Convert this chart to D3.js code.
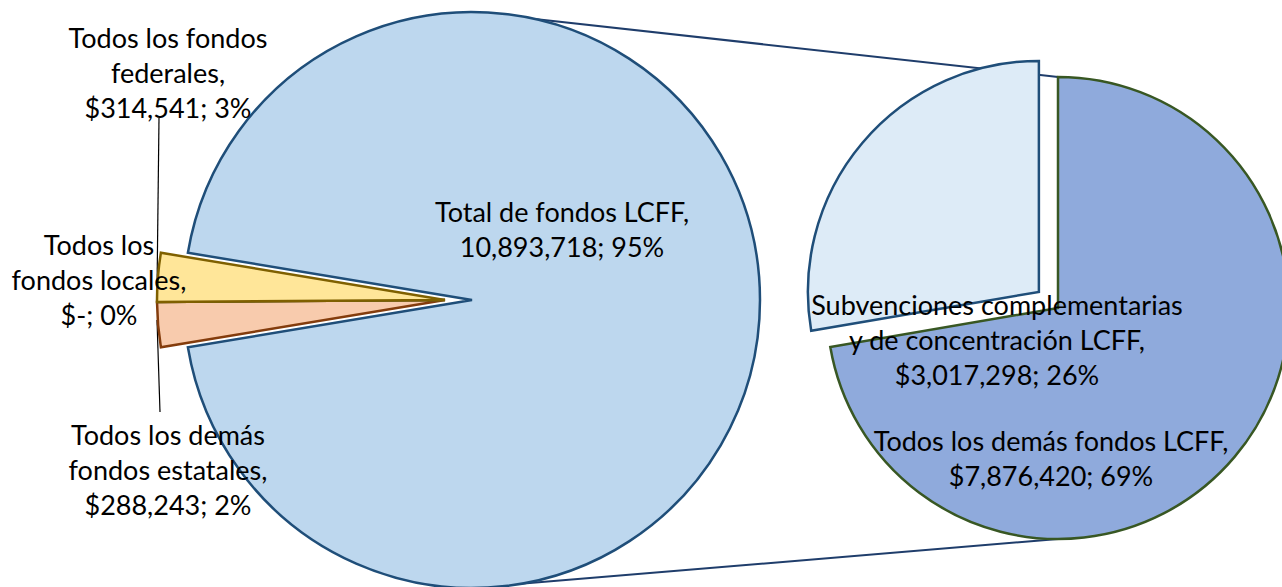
<!DOCTYPE html>
<html>
<head>
<meta charset="utf-8">
<script src="https://cdn.jsdelivr.net/npm/d3@7"></script>
<style>
  body { margin: 0; background: #fff; }
  text { font-family: Lato, "Open Sans", sans-serif; font-size: 27px; fill: #000; }
</style>
</head>
<body>
<div id="chart"></div>
<script>
// first pie: order goes clockwise from lower-left
var mainNames = [["Todos los demás", "fondos estatales,"], ["Todos los", "fondos locales,"], ["Todos los fondos", "federales,"], ["Total de fondos LCFF,"]];
var mainValues = [288243, 0, 314541, 10893718];
var mainPrefix = ["$", "$", "$", ""];
var mainPct = ["2%", "0%", "3%", "95%"];

// second pie: split of the LCFF slice
var subNames = [["Subvenciones complementarias", "y de concentración LCFF,"], ["Todos los demás fondos LCFF,"]];
var subValues = [3017298, 7876420];
var subPct = ["26%", "69%"];

var mainFill = ["#F8CBAD", "#E2EFDA", "#FFE699", "#BDD7EE"];
var mainStroke = ["#843C0C", "#4F6228", "#7F6000", "#1F4E79"];
var subFill = ["#DDEBF7", "#8FAADC"];
var subStroke = ["#1F4E79", "#385723"];

var width = 1282, height = 587;
var svg = d3.select("#chart").append("svg")
    .attr("width", width)
    .attr("height", height);

var c1 = {x: 472, y: 300}, r1 = 288;
var c2 = {x: 1058, y: 308}, r2 = 231;

var total = d3.sum(mainValues);
var smallAngle = 2 * Math.PI * (total - mainValues[3]) / total;
var start1 = 1.5 * Math.PI - smallAngle / 2;

var pie1 = d3.pie().sort(null).value(function(d) { return d; })
    .startAngle(start1).endAngle(start1 + 2 * Math.PI);
var arcs1 = pie1(mainValues);

var subTotal = d3.sum(subValues);
var start2 = -2 * Math.PI * subValues[0] / subTotal;
var pie2 = d3.pie().sort(null).value(function(d) { return d; })
    .startAngle(start2).endAngle(start2 + 2 * Math.PI);
var arcs2 = pie2(subValues);

var arc1 = d3.arc().innerRadius(0).outerRadius(r1);
var arc2 = d3.arc().innerRadius(0).outerRadius(r2);

function pt(c, r, a) {
  return [c.x + r * Math.sin(a), c.y - r * Math.cos(a)];
}

// connector lines (behind the pies)
var top1 = pt(c1, r1, 0.22), bot1 = pt(c1, r1, Math.PI - 0.17);
svg.append("line")
    .attr("x1", top1[0]).attr("y1", top1[1])
    .attr("x2", c2.x).attr("y2", c2.y - r2)
    .attr("stroke", "#1F3D6B").attr("stroke-width", 2);
svg.append("line")
    .attr("x1", bot1[0]).attr("y1", bot1[1])
    .attr("x2", c2.x).attr("y2", c2.y + r2)
    .attr("stroke", "#1F3D6B").attr("stroke-width", 2);

// leader lines for the small slices
svg.append("line").attr("x1", 159).attr("y1", 118).attr("x2", 157).attr("y2", 290)
    .attr("stroke", "#000").attr("stroke-width", 1.2);
svg.append("line").attr("x1", 160).attr("y1", 412).attr("x2", 157).attr("y2", 320)
    .attr("stroke", "#000").attr("stroke-width", 1.2);

// first pie, small slices pulled out to the left
svg.append("g")
    .selectAll("path")
    .data(arcs1)
    .enter()
    .append("path")
      .attr("d", arc1)
      .attr("transform", function(d, i) {
        var dx = i < 3 ? -27 : 0;
        return "translate(" + (c1.x + dx) + "," + c1.y + ")";
      })
      .attr("fill", function(d, i) { return mainFill[i]; })
      .attr("stroke", function(d, i) { return mainStroke[i]; })
      .attr("stroke-width", 2.5)
      .attr("stroke-linejoin", "miter");

// second pie, first slice pulled out along its bisector
svg.append("g")
    .selectAll("path")
    .data(arcs2)
    .enter()
    .append("path")
      .attr("d", arc2)
      .attr("transform", function(d, i) {
        var off = i === 0 ? 25 : 0;
        var mid = (d.startAngle + d.endAngle) / 2;
        var p = pt(c2, off, mid);
        return "translate(" + p[0] + "," + p[1] + ")";
      })
      .attr("fill", function(d, i) { return subFill[i]; })
      .attr("stroke", function(d, i) { return subStroke[i]; })
      .attr("stroke-width", 2.5)
      .attr("stroke-linejoin", "miter");

// labels
var lineH = 35;
var fmt = d3.format(",");
function valueText(v, prefix) {
  return v === 0 ? prefix + "-" : prefix + fmt(v);
}

var mainLabelPos = [[168, 445], [99, 255], [168, 48], [562, 222]];
var subLabelPos = [[997, 315], [1051, 451]];

function addLabel(lines, pos) {
  var t = svg.append("text")
      .attr("text-anchor", "middle")
      .attr("x", pos[0])
      .attr("y", pos[1]);
  lines.forEach(function(s, k) {
    t.append("tspan")
      .attr("x", pos[0])
      .attr("dy", k === 0 ? 0 : lineH)
      .text(s);
  });
}

mainValues.forEach(function(v, i) {
  addLabel(mainNames[i].concat([valueText(v, mainPrefix[i]) + "; " + mainPct[i]]), mainLabelPos[i]);
});
subValues.forEach(function(v, i) {
  addLabel(subNames[i].concat([valueText(v, "$") + "; " + subPct[i]]), subLabelPos[i]);
});
</script>
</body>
</html>
